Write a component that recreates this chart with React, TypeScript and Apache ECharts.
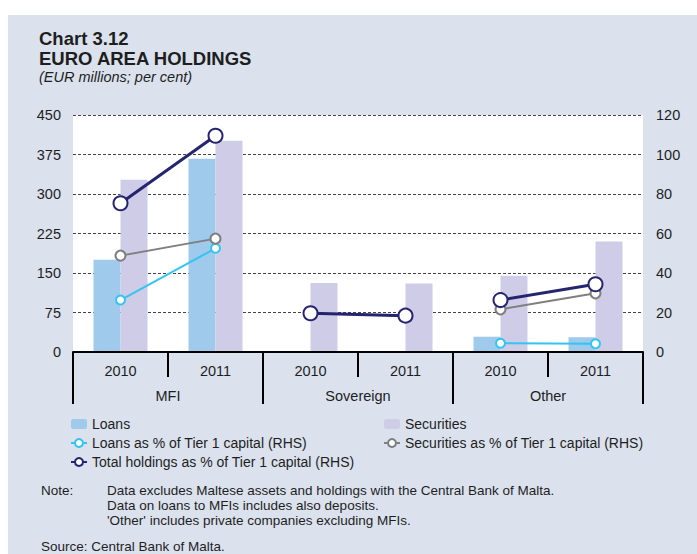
import React, { useEffect, useRef } from "react";
import * as echarts from "echarts";

const years = ["2010", "2011", "2010", "2011", "2010", "2011"];
const groups = ["MFI", "Sovereign", "Other"];
const loans = [175, 367, null, null, 29, 28];
const securities = [327, 401, 131, 130, 145, 210];
const loansPct = [26.3, 52.5, null, null, 4.4, 4.2];
const securitiesPct = [48.8, 57.4, 19.6, 18.4, 21.6, 29.7];
const totalPct = [75.3, 109.5, 19.6, 18.4, 26.3, 34.3];
const leftTicks = { min: 0, max: 450, interval: 75 };
const rightTicks = { min: 0, max: 120, interval: 20 };
const noteLines = [
  "Data excludes Maltese assets and holdings with the Central Bank of Malta.",
  "Data on loans to MFIs includes also deposits.",
  "'Other' includes private companies excluding MFIs.",
];

const FONT = "'Liberation Sans', Arial, Helvetica, sans-serif";
const TXT = "#1e1e1e";
const NAMES = {
  loans: "Loans",
  sec: "Securities",
  loansPct: "Loans as % of Tier 1 capital (RHS)",
  secPct: "Securities as % of Tier 1 capital (RHS)",
  total: "Total holdings as % of Tier 1 capital (RHS)",
};

function groupOnly(arr: (number | null)[], g: number) {
  return arr.map((v, i) => (Math.floor(i / 2) === g ? v : null));
}

export default function App() {
  const ref = useRef<HTMLDivElement>(null);
  useEffect(() => {
    if (!ref.current) return;
    const chart = echarts.init(ref.current, undefined, { renderer: "svg" });

    const lineSeries: any[] = [];
    const lineDefs = [
      { name: NAMES.loansPct, data: loansPct, color: "#33c4f0", size: 9, lw: 2, bw: 2.2 },
      { name: NAMES.secPct, data: securitiesPct, color: "#7f7f7f", size: 10, lw: 2, bw: 2.2 },
      { name: NAMES.total, data: totalPct, color: "#25246f", size: 14, lw: 3, bw: 2.6 },
    ];
    lineDefs.forEach((d, k) => {
      groups.forEach((_, g) => {
        lineSeries.push({
          type: "line",
          name: d.name,
          xAxisIndex: 0,
          yAxisIndex: 1,
          data: groupOnly(d.data, g),
          symbol: "emptyCircle",
          symbolSize: d.size,
          showAllSymbol: true,
          connectNulls: false,
          color: d.color,
          lineStyle: { color: d.color, width: d.lw },
          itemStyle: { color: d.color, borderColor: d.color, borderWidth: d.bw },
          z: 10 + k,
        });
      });
    });

    const legendText = { fontFamily: FONT, fontSize: 14, color: TXT, lineHeight: 14 };

    chart.setOption({
      animation: false,
      backgroundColor: "transparent",
      textStyle: { fontFamily: FONT },
      title: [
        {
          text: "Chart 3.12\nEURO AREA HOLDINGS",
          left: 39,
          top: 28,
          padding: 0,
          textStyle: { fontFamily: FONT, fontSize: 18.5, fontWeight: "bold", color: TXT, lineHeight: 20 },
        },
        {
          text: "(EUR millions; per cent)",
          left: 39,
          top: 69,
          padding: 0,
          textStyle: { fontFamily: FONT, fontSize: 14.5, fontStyle: "italic", fontWeight: "normal", color: TXT, lineHeight: 16 },
        },
      ],
      grid: {
        left: 73,
        right: 54,
        top: 115,
        height: 237,
        show: true,
        backgroundColor: "#ffffff",
        borderWidth: 0,
      },
      legend: [
        {
          orient: "vertical",
          left: 70,
          top: 417,
          padding: 0,
          itemGap: 5,
          itemWidth: 16,
          itemHeight: 10,
          selectedMode: false,
          data: [NAMES.loans, NAMES.loansPct, NAMES.total],
          textStyle: legendText,
        },
        {
          orient: "vertical",
          left: 383,
          top: 417,
          padding: 0,
          itemGap: 5,
          itemWidth: 16,
          itemHeight: 10,
          selectedMode: false,
          data: [NAMES.sec, NAMES.secPct],
          textStyle: legendText,
        },
      ],
      xAxis: [
        {
          type: "category",
          data: years,
          position: "bottom",
          boundaryGap: true,
          axisLine: { show: true, lineStyle: { color: "#000", width: 2 } },
          axisTick: { show: true, length: 25, lineStyle: { color: "#000", width: 2 } },
          axisLabel: { fontFamily: FONT, fontSize: 14.5, color: TXT, margin: 11 },
          splitLine: { show: false },
          z: 20,
        },
        {
          type: "category",
          data: groups,
          position: "bottom",
          boundaryGap: true,
          axisLine: { show: false },
          axisTick: { show: true, length: 52, lineStyle: { color: "#000", width: 2 } },
          axisLabel: { fontFamily: FONT, fontSize: 14.5, color: TXT, margin: 36 },
          splitLine: { show: false },
          z: 20,
        },
      ],
      yAxis: [
        {
          type: "value",
          position: "left",
          min: leftTicks.min,
          max: leftTicks.max,
          interval: leftTicks.interval,
          axisLine: { show: false },
          axisTick: { show: false },
          axisLabel: { fontFamily: FONT, fontSize: 14.5, color: TXT, margin: 12 },
          splitLine: { show: true, lineStyle: { color: "#444", width: 1, type: [3, 2] } },
        },
        {
          type: "value",
          position: "right",
          min: rightTicks.min,
          max: rightTicks.max,
          interval: rightTicks.interval,
          axisLine: { show: false },
          axisTick: { show: false },
          axisLabel: { fontFamily: FONT, fontSize: 14.5, color: TXT, margin: 13 },
          splitLine: { show: false },
        },
      ],
      series: [
        {
          type: "bar",
          name: NAMES.loans,
          data: loans,
          barWidth: 27,
          barGap: "0%",
          itemStyle: { color: "#9fcaeb" },
          z: 2,
        },
        {
          type: "bar",
          name: NAMES.sec,
          data: securities,
          barWidth: 27,
          barGap: "0%",
          itemStyle: { color: "#cfcce7" },
          z: 2,
        },
        ...lineSeries,
      ],
      graphic: [
        {
          type: "text",
          left: 41,
          top: 491 - 8,
          style: { text: "Note:", font: `13.5px ${FONT}`, fill: TXT },
        },
        ...noteLines.map((t, i) => ({
          type: "text",
          left: 107,
          top: 491 - 8 + i * 15,
          style: { text: t, font: `13.5px ${FONT}`, fill: TXT },
        })),
        {
          type: "text",
          left: 41,
          top: 547 - 8,
          style: { text: "Source: Central Bank of Malta.", font: `13.5px ${FONT}`, fill: TXT },
        },
      ],
    });
    return () => chart.dispose();
  }, []);

  return (
    <div style={{ position: "fixed", left: 0, top: 0, width: 697, height: 554, background: "#ffffff", overflow: "hidden" }}>
      <div style={{ position: "absolute", left: 8, top: 15, right: 0, bottom: 0, background: "#dbe2ee" }} />
      <div ref={ref} style={{ position: "absolute", left: 0, top: 0, width: 697, height: 554 }} />
    </div>
  );
}
